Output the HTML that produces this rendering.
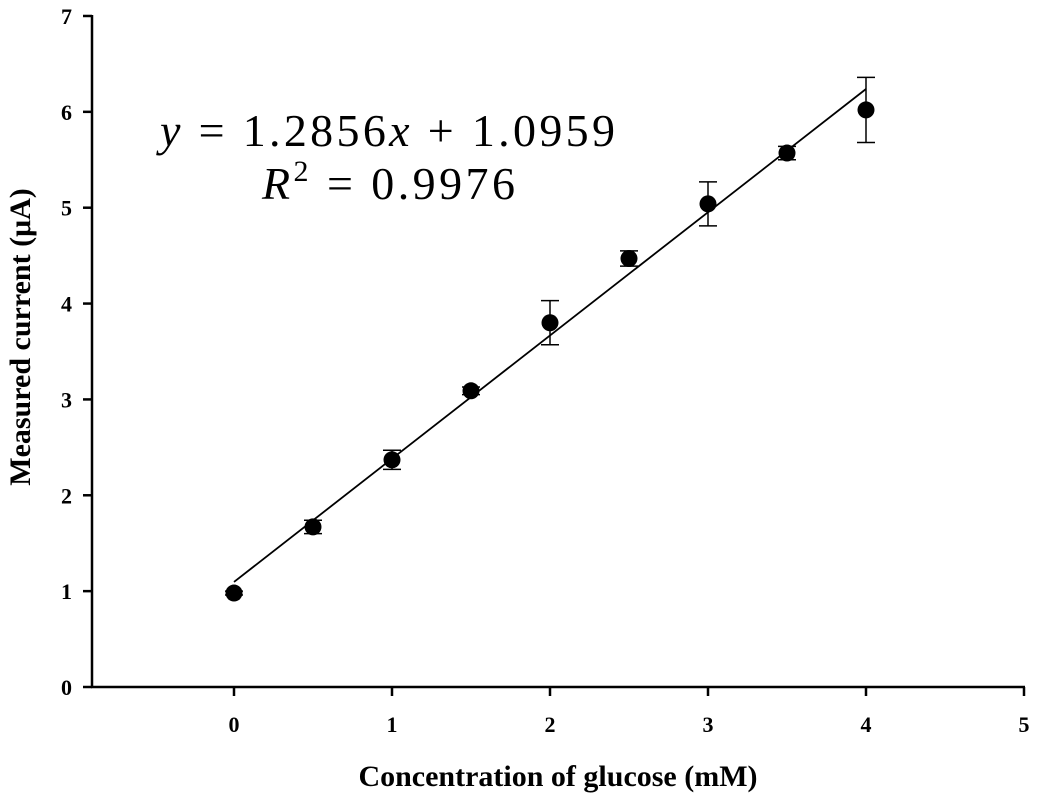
<!DOCTYPE html>
<html><head><meta charset="utf-8"><style>
body{margin:0;background:#fff;}
svg{display:block;font-family:"Liberation Serif",serif;}
</style></head><body>
<svg id="chart" width="1039" height="800">
<g id="axes"></g>
<g id="marks"></g>
<text x="160" y="146" font-size="46" textLength="455" lengthAdjust="spacing" font-family="Liberation Serif,serif"><tspan font-style="italic">y</tspan> = 1.2856<tspan font-style="italic">x</tspan> + 1.0959</text>
<text x="262" y="199" font-size="46" textLength="253" lengthAdjust="spacing" font-family="Liberation Serif,serif"><tspan font-style="italic">R</tspan><tspan font-size="30" dy="-18">2</tspan><tspan dy="18"> = 0.9976</tspan></text>
<text x="558" y="786" font-size="30" font-weight="bold" text-anchor="middle">Concentration of glucose (mM)</text>
<text transform="translate(30,337) rotate(-90)" font-size="30" font-weight="bold" text-anchor="middle">Measured current (μA)</text>
</svg>
<script>
const xs=[0,0.5,1,1.5,2,2.5,3,3.5,4];
const ys=[0.98,1.67,2.37,3.09,3.80,4.47,5.04,5.57,6.02];
const errs=[0.02,0.07,0.10,0.04,0.23,0.08,0.23,0.07,0.34];
const xTicks=[0,1,2,3,4,5];
const yTicks=[0,1,2,3,4,5,6,7];
const slope=1.2856, intercept=1.0959;
const NS='http://www.w3.org/2000/svg';
const X=v=>234+v*158, Y=v=>687-v*95.86;
function mk(t,a,p){const e=document.createElementNS(NS,t);for(const k in a)e.setAttribute(k,a[k]);p.appendChild(e);return e;}
const ax=document.getElementById('axes'), mg=document.getElementById('marks');
const yl=mk('line',{x1:92,y1:15,x2:92,y2:688,stroke:'#000','stroke-width':2.5},ax);


const xl=mk('line',{x1:91,y1:687,x2:1025,y2:687,stroke:'#000','stroke-width':2.5},ax);


yTicks.forEach(v=>{mk('line',{x1:83,x2:92,y1:Y(v),y2:Y(v),stroke:'#000','stroke-width':2.5},ax);
const t=mk('text',{x:72,y:Y(v)+8,'font-size':22,'font-weight':'bold','text-anchor':'end'},ax);t.textContent=v;

});
xTicks.forEach(v=>{mk('line',{x1:X(v),x2:X(v),y1:687,y2:696,stroke:'#000','stroke-width':2.5},ax);
const t=mk('text',{x:X(v),y:732,'font-size':22,'font-weight':'bold','text-anchor':'middle'},ax);t.textContent=v;

});
const fl=mk('line',{x1:X(0),y1:Y(intercept),x2:X(4),y2:Y(slope*4+intercept),stroke:'#000','stroke-width':1.8},mg);


xs.forEach((x,i)=>{const cx=X(x),t=Y(ys[i]+errs[i]),b=Y(ys[i]-errs[i]);
const g=mk('g',{},mg);


mk('line',{x1:cx,x2:cx,y1:t,y2:b,stroke:'#000','stroke-width':1.5},g);
mk('line',{x1:cx-9,x2:cx+9,y1:t,y2:t,stroke:'#000','stroke-width':1.5},g);
mk('line',{x1:cx-9,x2:cx+9,y1:b,y2:b,stroke:'#000','stroke-width':1.5},g);
mk('circle',{cx:cx,cy:Y(ys[i]),r:8.5,fill:'#000'},g);});
</script>
</body></html>
